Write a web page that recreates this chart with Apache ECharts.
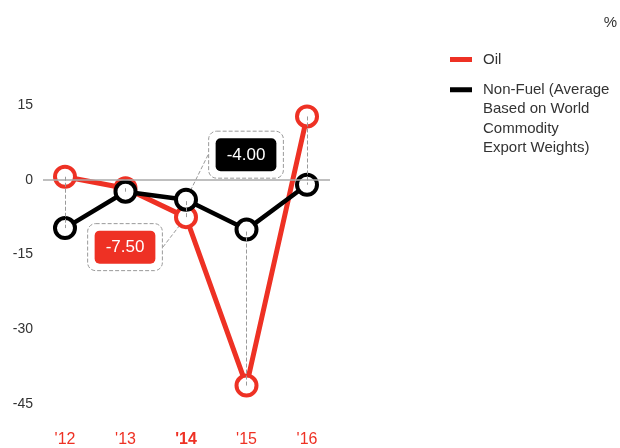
<!DOCTYPE html>
<html>
<head>
<meta charset="utf-8">
<script src="https://cdn.jsdelivr.net/npm/echarts@6/dist/echarts.min.js"></script>
<style>
  html, body { margin: 0; padding: 0; background: #fff; }
  #chart { width: 620px; height: 448px; }
</style>
</head>
<body>
<div id="chart"></div>
<script>
// Year-over-year commodity price change, percent
const years = ["'12", "'13", "'14", "'15", "'16"];
const highlightYear = "'14";
const oil = [0.6, -1.7, -7.5, -41.3, 12.7];
const nonFuel = [-9.7, -2.4, -4.0, -10.0, -1.0];
const yMin = -45, yMax = 15, yStep = 15;
const calloutIndex = 2;
const oilName = 'Oil';
const nonFuelName = 'Non-Fuel (Average Based on World Commodity Export Weights)';
const nonFuelLegendLines = ['Non-Fuel (Average', 'Based on World', 'Commodity', 'Export Weights)'];

const RED = '#ee3124';
const BLACK = '#000000';
const GREY = '#9a9a9a';
const TEXT = '#333333';
const FONT = '"Liberation Sans", Arial, sans-serif';

const chart = echarts.init(document.getElementById('chart'));

function calloutLabel(fill) {
  return {
    show: true,
    position: 'inside',
    formatter: p => '{v|' + p.value[1].toFixed(2) + '}',
    borderColor: GREY,
    borderType: 'dashed',
    borderWidth: 1,
    borderRadius: 8,
    padding: 7,
    rich: {
      v: {
        backgroundColor: fill,
        color: '#fff',
        borderRadius: 5,
        height: 20,
        lineHeight: 33,
        padding: [7, 11, 6, 11],
        fontSize: 17,
        fontFamily: FONT
      }
    }
  };
}

function withCallout(arr, fill) {
  return arr.map((v, i) => {
    if (i !== calloutIndex) return [i, v];
    return {
      value: [i, v],
      label: calloutLabel(fill),
      labelLine: { show: true, lineStyle: { color: GREY, type: 'dashed', width: 1 } }
    };
  });
}

// Dashed connectors between the two readings for each year
const connectors = years.map((_, i) => [
  { coord: [i, oil[i]] },
  { coord: [i, nonFuel[i]] }
]);

const option = {
  backgroundColor: '#fff',
  animation: false,
  textStyle: { fontFamily: FONT },
  title: {
    text: '%',
    right: 3,
    top: 15,
    padding: 0,
    textStyle: { fontSize: 15, fontWeight: 'normal', color: TEXT, fontFamily: FONT }
  },
  legend: [
    {
      data: [{ name: oilName, icon: 'rect', itemStyle: { color: RED, borderWidth: 0 } }],
      left: 450,
      top: 49.5,
      padding: 0,
      itemWidth: 22,
      itemHeight: 5,
      selectedMode: false,
      textStyle: { fontSize: 15, color: TEXT, fontFamily: FONT, lineHeight: 20, padding: [0, 0, 0, 6] }
    },
    {
      data: [{ name: nonFuelName, icon: 'rect', itemStyle: { color: BLACK, borderWidth: 0 } }],
      left: 450,
      top: 21.5,
      padding: 0,
      itemWidth: 22,
      itemHeight: 5,
      selectedMode: false,
      formatter: () => '\n\n\n' + nonFuelLegendLines.join('\n'),
      textStyle: { fontSize: 15, color: TEXT, fontFamily: FONT, lineHeight: 19.5, padding: [0, 0, 0, 6] }
    }
  ],
  grid: { left: 43, right: 290, top: 105, bottom: 41.3 },
  xAxis: {
    type: 'value',
    min: -0.3636,
    max: 4.38,
    axisLine: { show: false },
    axisTick: { show: false },
    splitLine: { show: false },
    axisLabel: {
      customValues: years.map((_, i) => i),
      margin: 28,
      formatter: v => {
        const y = years[Math.round(v)];
        return y === highlightYear ? '{b|' + y + '}' : '{n|' + y + '}';
      },
      rich: {
        n: { color: RED, fontSize: 16, fontFamily: FONT },
        b: { color: RED, fontSize: 16, fontWeight: 'bold', fontFamily: FONT }
      }
    }
  },
  yAxis: {
    type: 'value',
    min: yMin,
    max: yMax,
    interval: yStep,
    axisLine: { show: false },
    axisTick: { show: false },
    splitLine: { show: false },
    axisLabel: { color: TEXT, fontSize: 14, margin: 10, fontFamily: FONT }
  },
  series: [
    {
      // zero line and year connectors, drawn beneath the lines
      name: 'guides',
      type: 'line',
      data: [],
      z: 1,
      silent: true,
      markLine: {
        silent: true,
        symbol: 'none',
        label: { show: false },
        animation: false,
        lineStyle: { color: GREY, type: 'dashed', width: 1 },
        data: [
          { yAxis: 0, lineStyle: { color: '#aaaaaa', type: 'solid', width: 1.5 } },
          ...connectors
        ]
      }
    },
    {
      name: oilName,
      type: 'line',
      z: 3,
      data: withCallout(oil, RED),
      symbol: 'circle',
      symbolSize: 20,
      lineStyle: { color: RED, width: 5 },
      itemStyle: { color: '#fff', borderColor: RED, borderWidth: 4 },
      labelLayout: { dx: -61, dy: 30 }
    },
    {
      name: nonFuelName,
      type: 'line',
      z: 4,
      data: withCallout(nonFuel, BLACK),
      symbol: 'circle',
      symbolSize: 20,
      lineStyle: { color: BLACK, width: 4.5 },
      itemStyle: { color: '#fff', borderColor: BLACK, borderWidth: 4 },
      labelLayout: { dx: 60, dy: -45 }
    }
  ]
};

chart.setOption(option);
</script>
</body>
</html>
